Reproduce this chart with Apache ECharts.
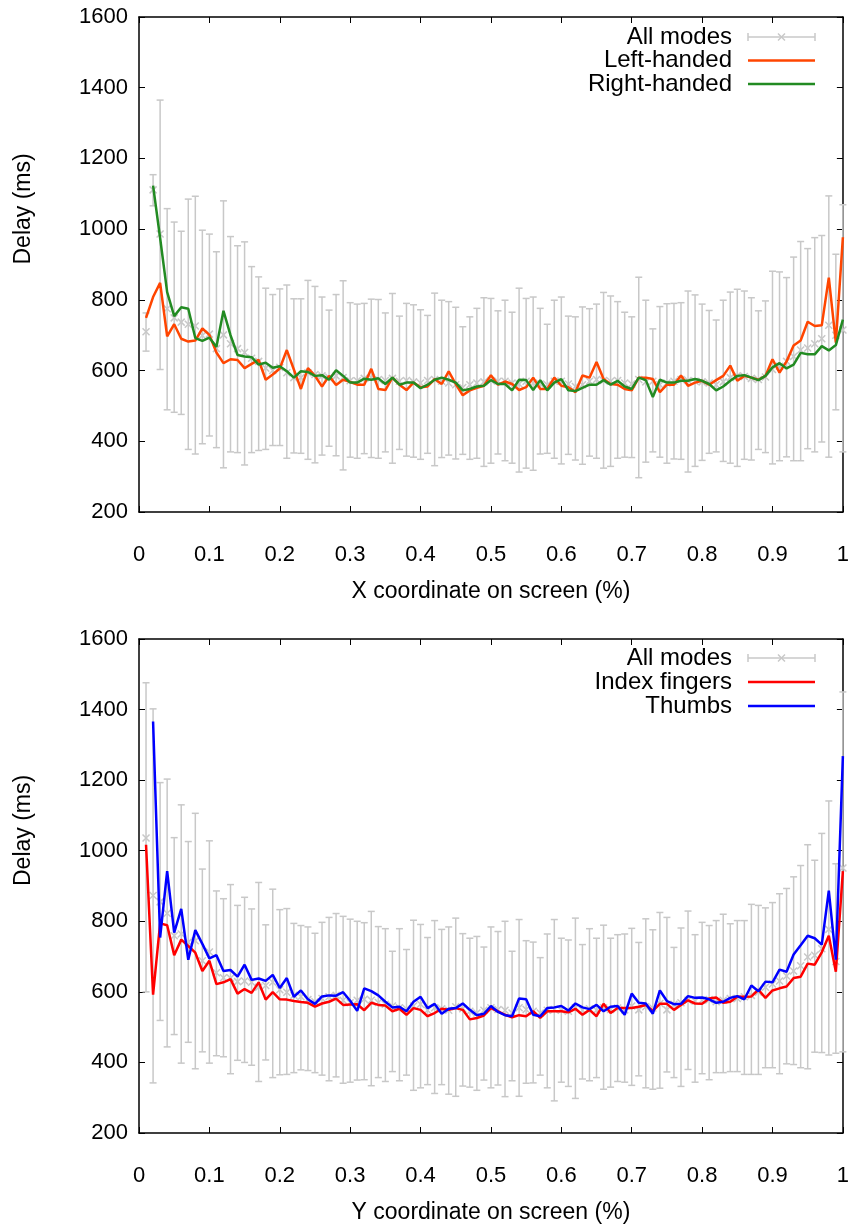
<!DOCTYPE html>
<html><head><meta charset="utf-8">
<script src="https://cdn.jsdelivr.net/npm/echarts@6/dist/echarts.min.js"></script>
<style>html,body{margin:0;padding:0;background:#fff}#c{width:852px;height:1231px}</style>
</head><body><div id="c"></div>
<script>
// x positions (fraction of screen)
const xs = [0.01,0.02,0.03,0.04,0.05,0.06,0.07,0.08,0.09,0.10,0.11,0.12,0.13,0.14,0.15,0.16,0.17,0.18,0.19,0.20,
0.21,0.22,0.23,0.24,0.25,0.26,0.27,0.28,0.29,0.30,0.31,0.32,0.33,0.34,0.35,0.36,0.37,0.38,0.39,0.40,
0.41,0.42,0.43,0.44,0.45,0.46,0.47,0.48,0.49,0.50,0.51,0.52,0.53,0.54,0.55,0.56,0.57,0.58,0.59,0.60,
0.61,0.62,0.63,0.64,0.65,0.66,0.67,0.68,0.69,0.70,0.71,0.72,0.73,0.74,0.75,0.76,0.77,0.78,0.79,0.80,
0.81,0.82,0.83,0.84,0.85,0.86,0.87,0.88,0.89,0.90,0.91,0.92,0.93,0.94,0.95,0.96,0.97,0.98,0.99,1.00];

const xTicks = [0,0.1,0.2,0.3,0.4,0.5,0.6,0.7,0.8,0.9,1];
const yTicks = [200,400,600,800,1000,1200,1400,1600];

// ---- Top panel: X coordinate ----
const topAllMean = [710,1111,986,775,749,737,731,726,699,703,662,701,676,662,651,635,626,607,600,609,
594,580,580,594,589,585,580,585,580,571,571,578,580,
575,572,578,570,572,568,565,572,575,570,565,560,552,560,565,568,572,570,570,565,562,570,565,562,560,570,570,562,555,560,570,575,572,570,
572,565,562,575,568,570,560,565,570,575,572,570,568,565,560,568,580,585,583,578,575,582,
603,612,626,640,658,664,676,690,728,700,715];
const topAllLow = [655,1066,603,489,482,476,377,364,393,415,382,325,370,368,333,368,374,377,388,388,
352,367,366,349,339,361,386,359,319,355,352,365,354,
352,370,338,377,358,355,349,366,331,354,361,350,363,349,352,329,338,364,345,338,313,324,318,364,366,352,336,363,347,335,358,352,324,329,
352,355,354,297,341,370,355,338,350,349,313,329,346,366,370,343,338,329,349,347,377,368,336,345,356,345,345,379,370,398,355,489,370];
const topAllHigh = [763,1154,1365,1058,1020,994,1085,1093,997,986,936,1080,979,953,964,894,865,833,815,831,
842,803,803,855,838,808,771,815,854,792,788,790,802,
801,763,818,754,790,786,772,756,819,799,795,779,724,752,776,806,804,769,799,765,833,804,808,776,731,799,808,754,752,780,775,788,821,811,
795,765,752,864,799,718,781,789,790,792,825,814,788,770,743,799,822,830,825,806,769,797,881,879,863,921,965,945,976,982,1094,929,1069];
const leftHanded = [749,808,848,697,731,690,682,685,719,701,651,621,632,630,607,619,630,574,589,606,
658,603,548,607,585,555,585,559,574,568,560,560,605,
548,545,580,560,545,566,553,555,576,562,598,562,530,544,551,557,587,560,569,562,545,553,580,548,548,580,557,553,539,586,580,624,576,562,
560,548,544,580,580,576,539,560,560,586,557,566,571,560,573,585,614,571,585,580,574,585,632,594,626,671,685,738,726,728,863,679,977];
const rightHanded = [null,1123,975,822,754,779,775,692,684,693,667,769,700,644,640,638,617,622,608,612,
598,580,598,596,585,587,574,601,585,566,566,577,574,
578,562,580,560,566,566,550,560,574,580,574,566,544,548,555,557,573,562,562,544,574,573,545,573,544,566,576,544,542,551,560,560,573,560,
571,555,548,580,573,525,574,566,566,571,571,576,571,562,544,555,571,585,587,580,573,585,609,621,606,617,650,646,646,669,657,672,744];

// ---- Bottom panel: Y coordinate ----
const botAllMean = [1036,873,855,823,759,764,741,745,688,713,654,640,639,629,631,627,613,618,627,606,
599,590,586,578,572,581,586,590,576,569,576,579,576,
570,565,560,555,552,560,565,548,555,552,548,558,552,545,540,548,555,550,548,540,555,550,545,540,548,550,548,545,555,548,552,548,555,550,
554,549,560,549,558,554,567,549,565,569,576,574,576,578,572,576,581,581,586,590,599,613,622,631,645,659,674,699,704,722,777,686,951];
const botAllLow = [600,342,519,444,479,398,457,382,430,398,419,416,368,406,400,392,346,407,357,365,
366,371,379,377,371,364,348,359,341,344,350,351,334,
357,346,374,348,364,321,328,337,312,337,310,304,333,330,321,350,328,336,303,348,304,341,342,364,328,291,344,332,298,353,348,357,324,330,
346,344,335,362,328,324,327,373,357,332,380,344,368,351,371,371,374,374,366,366,366,385,385,368,396,394,385,382,429,428,421,426,430];
const botAllHigh = [1476,1402,1193,1203,1037,1130,1026,1106,948,1028,886,864,904,845,868,835,910,790,891,833,
836,794,788,784,766,797,811,822,814,806,800,796,828,
785,779,715,779,720,803,791,754,802,777,784,809,765,752,757,727,784,771,800,715,805,745,741,697,764,805,752,747,809,734,779,752,789,752,
762,764,780,740,807,776,825,811,726,781,829,762,797,788,802,820,793,802,802,848,845,838,853,878,893,926,958,1017,973,1049,1141,963,1450];
const indexFingers = [1017,592,794,789,704,748,730,711,659,688,622,627,636,595,608,597,627,578,599,579,
578,574,571,569,558,567,572,581,563,564,565,548,569,
563,561,545,552,535,554,549,531,540,552,549,554,549,522,526,533,554,545,535,528,534,531,545,526,545,545,545,542,552,535,549,531,566,540,
554,554,554,558,563,546,566,566,549,563,576,567,566,581,584,569,572,586,586,587,606,583,604,610,615,639,643,680,677,712,759,657,942];
const thumbs = [null,1366,754,942,768,835,691,775,736,695,704,659,662,643,677,634,638,631,648,611,
639,586,604,579,566,587,590,589,599,575,546,610,602,
590,572,556,558,545,572,586,554,566,538,552,554,567,549,534,538,560,543,534,531,581,579,535,531,554,556,560,547,567,556,551,563,545,558,
560,535,595,569,567,538,604,574,565,566,588,583,584,579,569,572,583,588,579,618,602,629,627,663,657,706,732,759,752,734,887,691,1268];

const FONT = '"Liberation Sans", Arial, Helvetica, sans-serif';
const GRAY = '#c8c8c8';

function errData(mean, lo, hi) { return xs.map((x, i) => [x, lo[i], hi[i], mean[i]]); }
function lineData(v) { return xs.map((x, i) => [x, v[i]]).filter(d => d[1] !== null); }

function renderErr(params, api) {
  const x = api.value(0);
  const pLo = api.coord([x, api.value(1)]);
  const pHi = api.coord([x, api.value(2)]);
  const pM = api.coord([x, api.value(3)]);
  const c = 3.5, s = 3.5;
  const st = { stroke: GRAY, lineWidth: 1.5 };
  return { type: 'group', children: [
    { type: 'line', shape: { x1: pLo[0], y1: pLo[1], x2: pHi[0], y2: pHi[1] }, style: st },
    { type: 'line', shape: { x1: pLo[0] - c, y1: pLo[1], x2: pLo[0] + c, y2: pLo[1] }, style: st },
    { type: 'line', shape: { x1: pHi[0] - c, y1: pHi[1], x2: pHi[0] + c, y2: pHi[1] }, style: st },
    { type: 'line', shape: { x1: pM[0] - s, y1: pM[1] - s, x2: pM[0] + s, y2: pM[1] + s }, style: st },
    { type: 'line', shape: { x1: pM[0] - s, y1: pM[1] + s, x2: pM[0] + s, y2: pM[1] - s }, style: st }
  ]};
}

const axisLine = { onZero: false, lineStyle: { color: '#000', width: 1.5 } };
const axisTick = { inside: true, length: 6, lineStyle: { color: '#000', width: 1 } };
const fmtX = v => String(Math.round(v * 10) / 10);
const fmtY = v => String(Math.round(v));

function xAxes(g, name) {
  return [
    { gridIndex: g, type: 'value', min: xTicks[0], max: xTicks[xTicks.length - 1], interval: 0.1, position: 'bottom',
      axisLine, axisTick, splitLine: { show: false },
      axisLabel: { color: '#000', fontSize: 22, fontFamily: FONT, margin: 32, formatter: fmtX },
      name, nameLocation: 'middle', nameGap: 68,
      nameTextStyle: { color: '#000', fontSize: 23, fontFamily: FONT } },
    { gridIndex: g, type: 'value', min: xTicks[0], max: xTicks[xTicks.length - 1], interval: 0.1, position: 'top',
      axisLine, axisTick, splitLine: { show: false }, axisLabel: { show: false } }
  ];
}
function yAxes(g) {
  return [
    { gridIndex: g, type: 'value', min: yTicks[0], max: yTicks[yTicks.length - 1], interval: 200, position: 'left',
      axisLine, axisTick, splitLine: { show: false },
      axisLabel: { color: '#000', fontSize: 22, fontFamily: FONT, margin: 11, formatter: fmtY },
      name: 'Delay (ms)', nameLocation: 'middle', nameGap: 104, nameRotate: 90,
      nameTextStyle: { color: '#000', fontSize: 23, fontFamily: FONT, align: 'left' } },
    { gridIndex: g, type: 'value', min: yTicks[0], max: yTicks[yTicks.length - 1], interval: 200, position: 'right',
      axisLine, axisTick, splitLine: { show: false }, axisLabel: { show: false } }
  ];
}

function legend(rows, textRight, x1, x2) {
  const els = [];
  rows.forEach(r => {
    els.push({ type: 'text', style: { text: r.name, x: textRight, y: r.y, textAlign: 'right', align: 'right',
      textVerticalAlign: 'middle', verticalAlign: 'middle', fontSize: 24, fontFamily: FONT, fill: '#000' } });
    if (r.err) {
      const st = { stroke: GRAY, lineWidth: 1.5 };
      const mx = (x1 + x2) / 2;
      els.push({ type: 'line', shape: { x1, y1: r.y, x2, y2: r.y }, style: st });
      els.push({ type: 'line', shape: { x1, y1: r.y - 4, x2: x1, y2: r.y + 4 }, style: st });
      els.push({ type: 'line', shape: { x1: x2, y1: r.y - 4, x2, y2: r.y + 4 }, style: st });
      els.push({ type: 'line', shape: { x1: mx - 3.5, y1: r.y - 3.5, x2: mx + 3.5, y2: r.y + 3.5 }, style: st });
      els.push({ type: 'line', shape: { x1: mx - 3.5, y1: r.y + 3.5, x2: mx + 3.5, y2: r.y - 3.5 }, style: st });
    } else {
      els.push({ type: 'line', shape: { x1, y1: r.y, x2, y2: r.y }, style: { stroke: r.color, lineWidth: 2.5 } });
    }
  });
  return els;
}

const C_LEFT = '#ff4500', C_RIGHT = '#228b22', C_INDEX = '#ff0000', C_THUMB = '#0000ff';

const chart = echarts.init(document.getElementById('c'), null, { renderer: 'canvas' });
chart.setOption({
  animation: false,
  backgroundColor: '#fff',
  grid: [
    { left: 139, top: 17, width: 705, height: 495 },
    { left: 139, top: 639, width: 705, height: 494 }
  ],
  xAxis: [...xAxes(0, 'X coordinate on screen (%)'), ...xAxes(1, 'Y coordinate on screen (%)')],
  yAxis: [...yAxes(0), ...yAxes(1)],
  series: [
    { name: 'All modes', type: 'custom', xAxisIndex: 0, yAxisIndex: 0, renderItem: renderErr,
      encode: { x: 0, y: [1, 2, 3] }, data: errData(topAllMean, topAllLow, topAllHigh), z: 1, silent: true },
    { name: 'Left-handed', type: 'line', xAxisIndex: 0, yAxisIndex: 0, data: lineData(leftHanded),
      showSymbol: false, lineStyle: { color: C_LEFT, width: 2.5 }, itemStyle: { color: C_LEFT }, z: 2 },
    { name: 'Right-handed', type: 'line', xAxisIndex: 0, yAxisIndex: 0, data: lineData(rightHanded),
      showSymbol: false, lineStyle: { color: C_RIGHT, width: 2.5 }, itemStyle: { color: C_RIGHT }, z: 3 },
    { name: 'All modes ', type: 'custom', xAxisIndex: 2, yAxisIndex: 2, renderItem: renderErr,
      encode: { x: 0, y: [1, 2, 3] }, data: errData(botAllMean, botAllLow, botAllHigh), z: 1, silent: true },
    { name: 'Index fingers', type: 'line', xAxisIndex: 2, yAxisIndex: 2, data: lineData(indexFingers),
      showSymbol: false, lineStyle: { color: C_INDEX, width: 2.5 }, itemStyle: { color: C_INDEX }, z: 2 },
    { name: 'Thumbs', type: 'line', xAxisIndex: 2, yAxisIndex: 2, data: lineData(thumbs),
      showSymbol: false, lineStyle: { color: C_THUMB, width: 2.5 }, itemStyle: { color: C_THUMB }, z: 3 }
  ],
  graphic: [
    ...legend([
      { name: 'All modes', y: 37, err: true },
      { name: 'Left-handed', y: 60.5, color: C_LEFT },
      { name: 'Right-handed', y: 84, color: C_RIGHT }
    ], 732, 748, 815),
    ...legend([
      { name: 'All modes', y: 658, err: true },
      { name: 'Index fingers', y: 682, color: C_INDEX },
      { name: 'Thumbs', y: 706, color: C_THUMB }
    ], 732, 748, 815)
  ]
});
</script></body></html>
